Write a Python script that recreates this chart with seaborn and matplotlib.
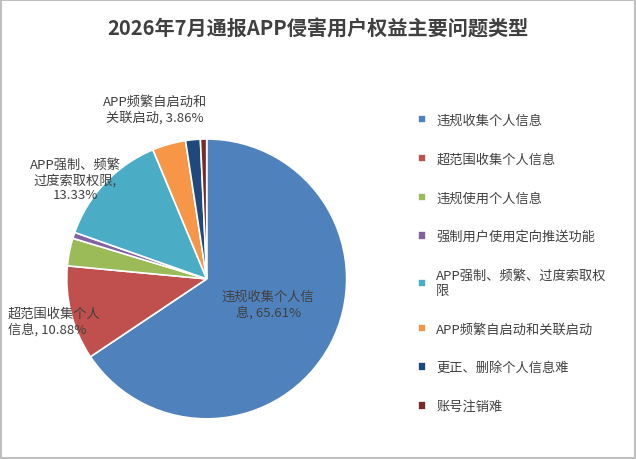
import matplotlib
matplotlib.use("Agg")
import matplotlib.pyplot as plt
import seaborn as sns

sns.set_theme(style="white")
plt.rcParams['font.family'] = ['Noto Sans CJK SC', 'DejaVu Sans']

categories = ['违规收集个人信息', '超范围收集个人信息', '违规使用个人信息', '强制用户使用定向推送功能',
              'APP强制、频繁、过度索取权限', 'APP频繁自启动和关联启动', '更正、删除个人信息难', '账号注销难']
legend_labels = ['违规收集个人信息', '超范围收集个人信息', '违规使用个人信息', '强制用户使用定向推送功能',
                 'APP强制、频繁、过度索取权\n限', 'APP频繁自启动和关联启动', '更正、删除个人信息难', '账号注销难']
values = [65.61, 10.88, 3.2, 0.7, 13.33, 3.86, 1.7, 0.72]
colors = ['#4F81BD', '#C0504D', '#9BBB59', '#8064A2', '#4BACC6', '#F79646', '#1F497D', '#772C2A']

fig = plt.figure(figsize=(6.36, 4.6), dpi=100)
fig.patch.set_edgecolor('#BFBFBF')
fig.patch.set_linewidth(1.5)
fig.suptitle('2026年7月通报APP侵害用户权益主要问题类型', fontsize=14.5, fontweight='bold',
             color='#404040', y=0.96)

ax = fig.add_axes([0.105, 0.087, 0.44, 0.609])
wedges, _ = ax.pie(values, colors=colors, startangle=90, counterclock=False,
                   wedgeprops=dict(edgecolor='white', linewidth=1.2))
ax.set_xlim(-1, 1)
ax.set_ylim(-1, 1)
ax.set_aspect('equal')

lab_kw = dict(fontsize=9.5, color='#404040', clip_on=False)
ax.text(0.44, -0.18, '违规收集个人信\n息, 65.61%', ha='center', va='center', **lab_kw)
ax.text(-1.42, -0.30, '超范围收集个人\n信息, 10.88%', ha='left', va='center', **lab_kw)
ax.text(-0.94, 0.71, 'APP强制、频繁\n过度索取权限,\n13.33%', ha='center', va='center', **lab_kw)
ax.text(-0.37, 1.21, 'APP频繁自启动和\n关联启动, 3.86%', ha='center', va='center', **lab_kw)

fig.legend(wedges, legend_labels, loc='center left', bbox_to_anchor=(0.638, 0.425),
           frameon=False, fontsize=9.5, labelspacing=1.95, handlelength=0.6,
           handleheight=0.6, handletextpad=0.8, labelcolor='#404040')

fig.savefig('out.png', dpi=100, edgecolor=fig.get_edgecolor())
